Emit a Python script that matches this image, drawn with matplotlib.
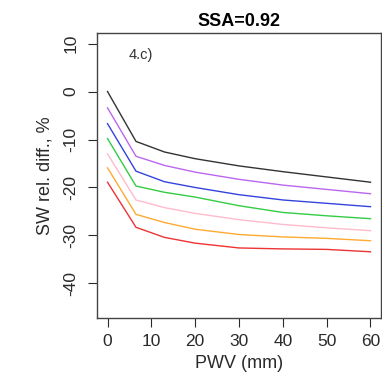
import matplotlib
matplotlib.use('Agg')
import matplotlib.pyplot as plt

plt.rcParams['font.family'] = ['Liberation Sans', 'DejaVu Sans']

# PWV sample points (mm) and relative SW differences (%) per curve
pwv = [0, 6.5, 13, 20, 30, 40, 50, 60]
black = [0.0, -10.4, -12.6, -14.0, -15.5, -16.7, -17.8, -18.9]
purple = [-3.4, -13.5, -15.4, -16.8, -18.3, -19.5, -20.4, -21.3]
blue = [-6.7, -16.6, -18.8, -20.0, -21.5, -22.6, -23.3, -24.0]
green = [-9.8, -19.7, -21.0, -22.0, -23.8, -25.2, -25.9, -26.5]
pink = [-13.0, -22.6, -24.2, -25.4, -26.7, -27.7, -28.4, -29.0]
orange = [-15.9, -25.6, -27.3, -28.7, -29.8, -30.3, -30.6, -31.1]
red = [-18.9, -28.3, -30.4, -31.6, -32.6, -32.8, -32.9, -33.4]

series = [black, purple, blue, green, pink, orange, red]
colors = ['#333333', '#bb66ee', '#3344dd', '#33cc44', '#ffbbcc', '#ffaa33', '#ee3333']

xticks = [0, 10, 20, 30, 40, 50, 60]
yticks = [-40, -30, -20, -10, 0, 10]

fig = plt.figure(figsize=(3.82, 3.78), dpi=100)
ax = fig.add_axes([97/382, 1 - 318/378, 284/382, 285/378])

for vals, c in zip(series, colors):
    ax.plot(pwv, vals, color=c, lw=1.0)

ax.set_xlim(-2.4, 62.4)
ax.set_ylim(-47.2, 12.2)
ax.set_xticks(xticks)
ax.set_yticks(yticks)
ax.set_yticklabels([str(v) for v in yticks], rotation=90, va='center')
ax.tick_params(direction='out', length=6.5, width=0.8, labelsize=12.5, colors='#2a2a2a')
ax.tick_params(axis='x', pad=5)
ax.tick_params(axis='y', pad=7)
for s in ax.spines.values():
    s.set_color('#444444')
    s.set_linewidth(1.0)

ax.text(7.5, 7.6, '4.c)', fontsize=10.5, ha='center', va='center', color='#333333')
ax.set_title('SSA=0.92', fontsize=13, fontweight='bold', pad=5)
ax.set_xlabel('PWV (mm)', fontsize=13, color='#2a2a2a', labelpad=4)
ax.set_ylabel('SW rel. diff., %', fontsize=13, color='#2a2a2a', labelpad=7)

fig.savefig('out.png', dpi=100)
